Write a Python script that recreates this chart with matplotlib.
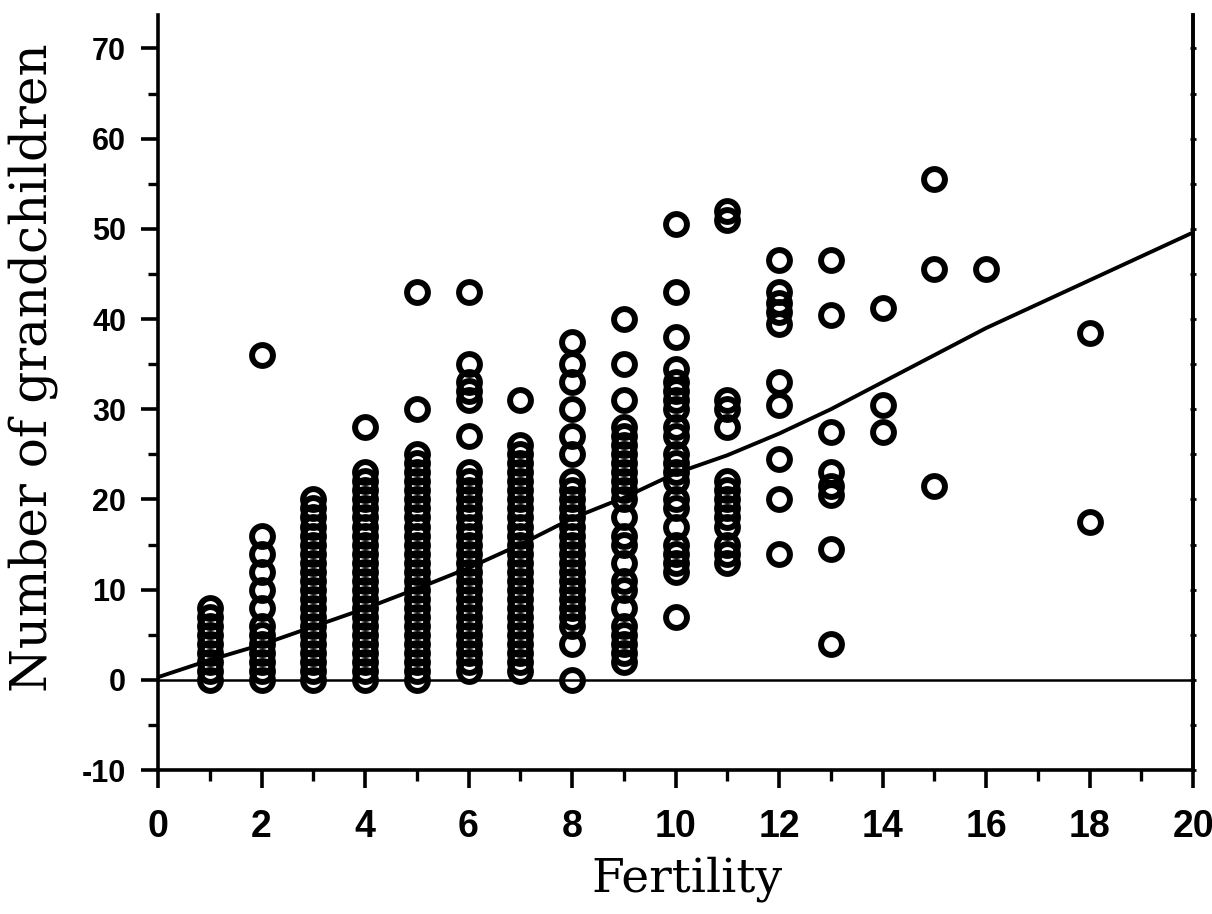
import matplotlib
matplotlib.use("Agg")
import matplotlib.pyplot as plt
from matplotlib.ticker import MultipleLocator

# --- values ---
fertility = [1, 2, 3, 4, 5, 6, 7, 8, 9, 10, 11, 12, 13, 14, 15, 16, 18]

grandchildren = [
    list(range(0, 9)),                                          # 1
    [0, 1, 2, 3, 4, 5, 6, 8, 10, 12, 14, 16, 36],               # 2
    list(range(0, 21)),                                         # 3
    list(range(0, 24)) + [28],                                  # 4
    list(range(0, 26)) + [30, 43],                              # 5
    list(range(1, 24)) + [27, 31, 32, 33, 35, 43],              # 6
    list(range(1, 27)) + [31],                                  # 7
    [0, 4] + list(range(6, 23)) + [25, 27, 30, 33, 35, 37.5],   # 8
    [2, 3, 4, 5, 6, 8, 10, 11, 13, 15, 16, 18,
     20, 21, 22, 23, 24, 25, 26, 27, 28, 31, 35, 40],           # 9
    [7, 12, 13, 14, 15, 17, 19, 20, 22, 23, 24, 25, 27, 28,
     30, 31, 32, 33, 34.5, 38, 43, 50.5],                       # 10
    [13, 14, 15, 17, 18, 19, 20, 21, 22, 28, 30, 31, 51, 52],   # 11
    [14, 20, 24.5, 30.5, 33, 39.5, 40.8, 41.8, 43, 46.5],       # 12
    [4, 14.5, 20.5, 21.5, 23, 27.5, 40.5, 46.5],                # 13
    [27.5, 30.5, 41.2],                                         # 14
    [21.5, 45.5, 55.5],                                         # 15
    [45.5],                                                     # 16
    [17.5, 38.5],                                               # 18
]

# fitted curve as traced
fit_x = [0, 1, 2, 3, 4, 5, 6, 7, 8, 9, 10, 11, 12, 13, 14, 15, 16, 18, 20]
fit_y = [0.3, 2.2, 3.9, 5.9, 7.9, 10.1, 12.4, 15.0, 17.9, 20.2, 22.9,
         24.9, 27.3, 30.0, 33.0, 36.0, 39.0, 44.3, 49.6]

x_ticks = list(range(0, 21, 2))
y_ticks = list(range(-10, 71, 10))

plt.rcParams["axes.unicode_minus"] = False

fig = plt.figure(figsize=(12.12, 9.14), dpi=100)
ax = fig.add_axes([0.1304, 0.1575, 0.854, 0.826])

xs, ys = [], []
for f, vals in zip(fertility, grandchildren):
    for v in vals:
        xs.append(f)
        ys.append(v)

ax.plot(xs, ys, linestyle="none", marker="o", markersize=15,
        markerfacecolor="none", markeredgecolor="black",
        markeredgewidth=4.3, zorder=3)
ax.plot(fit_x, fit_y, color="black", linewidth=2.8, zorder=2)
ax.axhline(0, color="black", linewidth=1.8, zorder=1)

ax.set_xlim(0, 20)
ax.set_ylim(-10, 73.7)

for s in ["left", "right", "bottom"]:
    ax.spines[s].set_linewidth(2.6)
ax.spines["top"].set_visible(False)

ax.set_xticks(x_ticks)
ax.xaxis.set_minor_locator(MultipleLocator(1))
ax.set_yticks(y_ticks)
ax.yaxis.set_minor_locator(MultipleLocator(5))

ax.tick_params(axis="x", which="major", direction="out", length=13,
               width=2.6, pad=15)
ax.tick_params(axis="x", which="minor", direction="out", length=8, width=2.4)
ax.tick_params(axis="y", which="major", direction="out", length=12,
               width=2.6, pad=11)
ax.tick_params(axis="y", which="minor", direction="out", length=7, width=2.4)

for lab in ax.get_yticklabels():
    lab.set_fontfamily("Liberation Sans")
    lab.set_fontweight("bold")
    lab.set_fontsize(22)
for lab in ax.get_xticklabels():
    lab.set_fontfamily(["Liberation Sans Narrow", "Liberation Sans"])
    lab.set_fontweight("bold")
    lab.set_fontsize(27)

# small marks along the right frame
sec = ax.secondary_yaxis("right")
sec.set_yticks(list(range(-10, 71, 5)))
sec.set_yticklabels([])
sec.tick_params(direction="inout", length=4, width=2)
sec.spines["right"].set_linewidth(2.6)

fig.text(0.027, 0.598, "Number of grandchildren", rotation=90,
         ha="center", va="center", family="DejaVu Serif", fontsize=36)
fig.text(0.567, 0.038, "Fertility", ha="center", va="center",
         family="DejaVu Serif", fontsize=34)

fig.savefig("out.png", dpi=100, facecolor="white")
